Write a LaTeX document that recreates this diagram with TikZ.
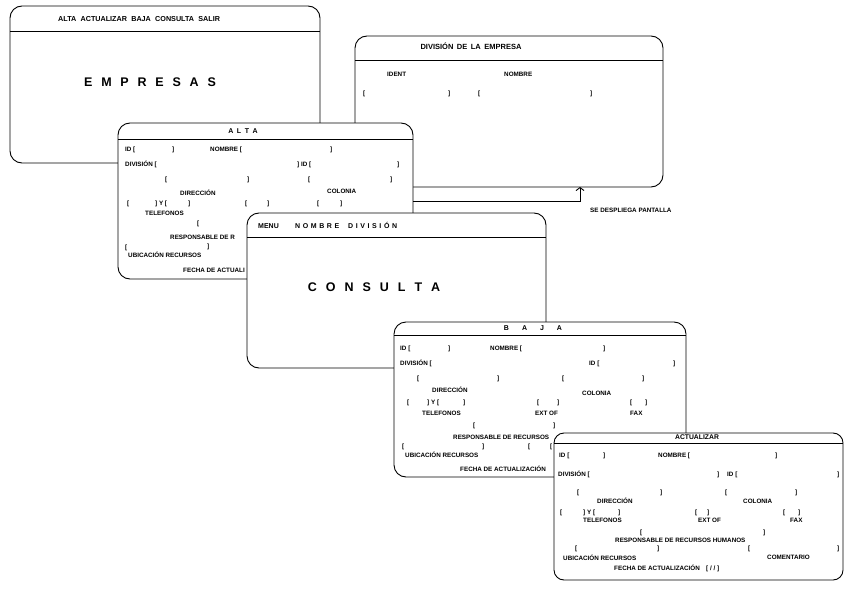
\documentclass[tikz,border=0pt]{standalone}
\usepackage{fontspec}
\setmainfont{Liberation Sans}
\usetikzlibrary{arrows.meta}
\begin{document}
\begin{tikzpicture}[x=1pt,y=-1pt,
  win/.style={draw, line width=0.9pt, fill=white, rounded corners=#1, rectangle,
    anchor=north west, inner sep=0pt, outer sep=0pt},
  win/.default=12pt,
  bar/.style={line width=0.9pt},
  lbl/.style={font=\fontsize{6.3}{7}\selectfont\bfseries, inner sep=0pt,
    anchor=west, text height=4.5pt, text depth=0pt},
  menu/.style={font={\fontsize{7.2}{8}\selectfont\bfseries\spaceskip=4.3pt\relax},
    inner sep=0pt, anchor=west, text height=5pt, text depth=0pt},
  head/.style={font={\fontsize{7}{8}\selectfont\bfseries\spaceskip=#1\relax},
    inner sep=0pt, text height=5pt, text depth=0pt},
  head/.default=3.5pt,
  big/.style={font={\fontsize{12.5}{14}\selectfont\bfseries\spaceskip=8.8pt\relax},
    inner sep=0pt, text height=9pt, text depth=0pt},
  conn/.style={line width=0.9pt, -{Straight Barb[length=3pt,width=8pt]}}
]
\useasboundingbox (0,0) rectangle (845,591);

% main menu window
\node[win, minimum width=310pt, minimum height=157pt] (empresas) at (10,6) {};
\draw[bar] ([yshift=-25pt]empresas.north west) -- ([yshift=-25pt]empresas.north east);
\node[menu] (empMenu) at (58,19) {ALTA ACTUALIZAR BAJA CONSULTA SALIR};
\node[big] (empTitle) at (150,82) {E M P R E S A S};

% division window
\node[win, minimum width=308pt, minimum height=151pt] (division) at (355,36) {};
\draw[bar] ([yshift=-24pt]division.north west) -- ([yshift=-24pt]division.north east);
\node[head=3.5pt, font={\fontsize{7.5}{8}\selectfont\bfseries\spaceskip=3.5pt\relax}] (divTitle) at (471,47) {DIVISIÓN DE LA EMPRESA};
\foreach \x/\y/\t [count=\i] in {387/74/IDENT, 504/74/NOMBRE, 363/93/{[}, 448/93/{]}, 478/93/{[}, 590/93/{]}}
  \node[lbl] (div-\i) at (\x,\y) {\t};

% ALTA window
\node[win, minimum width=295pt, minimum height=156pt] (alta) at (118,123) {};
\draw[bar] ([yshift=-16pt]alta.north west) -- ([yshift=-16pt]alta.north east);
\node[head=3.5pt] (altaTitle) at (243,131) {A L T A};
\foreach \x/\y/\t [count=\i] in {
  125/149/{ID [}, 172/149/{]}, 210/149/{NOMBRE [}, 330/149/{]},
  125/164/{DIVISIÓN [}, 297/164/{] ID [}, 397/164/{]},
  165/179/{[}, 247/179/{]}, 308/179/{[}, 390/179/{]},
  180/193/DIRECCIÓN, 327/191/COLONIA,
  127/203/{[}, 155/203/{] Y [}, 188/203/{]}, 245/203/{[}, 267/203/{]}, 317/203/{[}, 340/203/{]},
  145/213/TELEFONOS, 197/223/{[},
  170/237/{RESPONSABLE DE R},
  125/247/{[}, 207/246/{]},
  128/255/{UBICACIÓN RECURSOS},
  183/270/{FECHA DE ACTUALI}}
  \node[lbl] (alta-\i) at (\x,\y) {\t};

% ALTA leads to the division screen
\draw[conn] (alta.east |- 0,201) -| (division.south -| 580,0);
\node[lbl] (despliega) at (590,210) {SE DESPLIEGA PANTALLA};

% CONSULTA window
\node[win, minimum width=299pt, minimum height=155pt] (consulta) at (247,213) {};
\draw[bar] ([yshift=-24pt]consulta.north west) -- ([yshift=-24pt]consulta.north east);
\node[head=3.5pt, anchor=west] (conMenu) at (258,226) {MENU};
\node[head=2.6pt, anchor=west] (conNombre) at (295,226) {N O M B R E};
\node[head=2.6pt, anchor=west] (conDiv) at (348,226) {D I V I S I Ó N};
\node[big, font={\fontsize{12.5}{14}\selectfont\bfseries\spaceskip=9pt\relax}] (conTitle) at (374,287) {C O N S U L T A};

% BAJA window
\node[win, minimum width=292pt, minimum height=155pt] (baja) at (394,322) {};
\draw[bar] ([yshift=-13pt]baja.north west) -- ([yshift=-13pt]baja.north east);
\node[head=13pt] (bajaTitle) at (533,328) {B A J A};
\foreach \x/\y/\t [count=\i] in {
  400/348/{ID [}, 448/348/{]}, 490/348/{NOMBRE [}, 603/348/{]},
  400/363/{DIVISIÓN [}, 589/363/{ID [}, 673/363/{]},
  417/378/{[}, 497/378/{]}, 562/378/{[}, 642/378/{]},
  432/390/DIRECCIÓN, 582/393/COLONIA,
  407/402/{[}, 427/402/{] Y [}, 463/402/{]}, 537/402/{[}, 557/402/{]}, 630/402/{[}, 645/402/{]},
  422/413/TELEFONOS, 535/413/{EXT OF}, 630/413/FAX,
  473/425/{[}, 553/425/{]},
  453/437/{RESPONSABLE DE RECURSOS},
  402/446/{[}, 482/446/{]}, 528/446/{[}, 550/446/{[},
  405/455/{UBICACIÓN RECURSOS},
  460/469/{FECHA DE ACTUALIZACIÓN}}
  \node[lbl] (baja-\i) at (\x,\y) {\t};

% ACTUALIZAR window
\node[win=10pt, minimum width=289pt, minimum height=147pt] (actualizar) at (554,433) {};
\draw[bar] ([yshift=-10pt]actualizar.north west) -- ([yshift=-10pt]actualizar.north east);
\node[head=3.5pt, font={\fontsize{6.8}{8}\selectfont\bfseries}] (actTitle) at (697,437) {ACTUALIZAR};
\foreach \x/\y/\t [count=\i] in {
  559/455/{ID [}, 603/455/{]}, 658/455/{NOMBRE [}, 775/455/{]},
  558/474/{DIVISIÓN [}, 717/474/{]}, 727/474/{ID [}, 837/474/{]},
  577/492/{[}, 660/492/{]}, 725/492/{[}, 795/492/{]},
  597/501/DIRECCIÓN, 743/501/COLONIA,
  560/512/{[}, 583/512/{] Y [}, 618/512/{]}, 695/512/{[}, 707/512/{]}, 783/512/{[}, 798/512/{]},
  583/520/TELEFONOS, 698/520/{EXT OF}, 790/520/FAX,
  640/532/{[}, 763/532/{]},
  615/540/{RESPONSABLE DE RECURSOS HUMANOS},
  575/548/{[}, 657/548/{]}, 748/548/{[}, 837/548/{]},
  563/558/{UBICACIÓN RECURSOS}, 767/557/COMENTARIO,
  614/568/{FECHA DE ACTUALIZACIÓN}, 706/568/{[ / / ]}}
  \node[lbl] (act-\i) at (\x,\y) {\t};
\end{tikzpicture}
\end{document}
